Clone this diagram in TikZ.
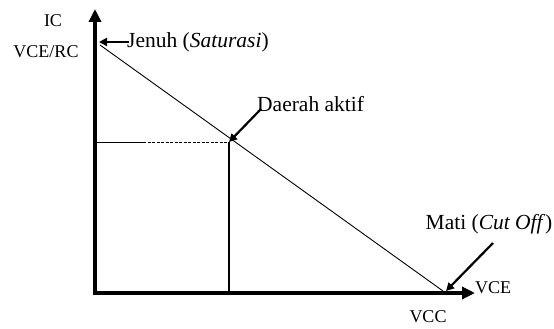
\documentclass[tikz,border=0pt]{standalone}
\usepackage{fontspec}
\setmainfont{Liberation Serif}
\usetikzlibrary{arrows.meta}
\begin{document}
\begin{tikzpicture}[x=1pt,y=-1pt,
  axis/.style={line width=4.5pt,-{Triangle[length=13pt,width=12pt]}},
  callout/.style={line width=2.2pt,-{Triangle[length=8pt,width=8pt]}},
  big/.style={font=\fontsize{21.5}{21.5}\selectfont,inner sep=0pt},
  small/.style={font=\fontsize{18}{18}\selectfont,inner sep=0pt}]
\useasboundingbox (0,0) rectangle (554,329);
\coordinate (O) at (95,293);
\coordinate (Ytip) at (95,9);
\coordinate (Xtip) at (475,293);
\coordinate (A) at (100,45);
\coordinate (B) at (443,291);
\coordinate (Q) at (229,142);
\coordinate (Qx) at (229,293);
\coordinate (Qy) at (95,142);
% load line
\draw[line width=0.9pt] (A) -- (B);
% projections
\draw[line width=0.8pt] (Qy) -- (143,142);
\draw[line width=0.8pt,dash pattern=on 3pt off 1.5pt] (143,142) -- (Q);
\draw[line width=2.6pt] (Q) -- (Qx);
% axes
\draw[axis] ([yshift=2.2pt]O) -- (Ytip);
\draw[axis] ([xshift=-2.2pt]O) -- (Xtip);
% labels
\node[small] (ic) at (53,21) {IC};
\node[small] (vcerc) at (46,52) {VCE/RC};
\node[small,anchor=west] (vce) at (475,288) {VCE};
\node[small] (vcc) at (428,317) {VCC};
\node[big,anchor=west] (jenuh) at (127,42) {Jenuh (\textit{Saturasi})};
\node[big,anchor=west] (aktif) at (257,104) {Daerah aktif};
\node[big] (mati) at (489,224) {Mati (\textit{Cut Off})};
% callouts
\coordinate (J0) at (129,42);
\coordinate (J1) at (99,42);
\draw[callout] (J0) -- (J1);
\coordinate (D0) at (261,109);
\draw[callout] (D0) -- (Q);
\coordinate (M0) at (493,243);
\coordinate (M1) at (446,291);
\draw[callout] (M0) -- (M1);
\end{tikzpicture}
\end{document}
